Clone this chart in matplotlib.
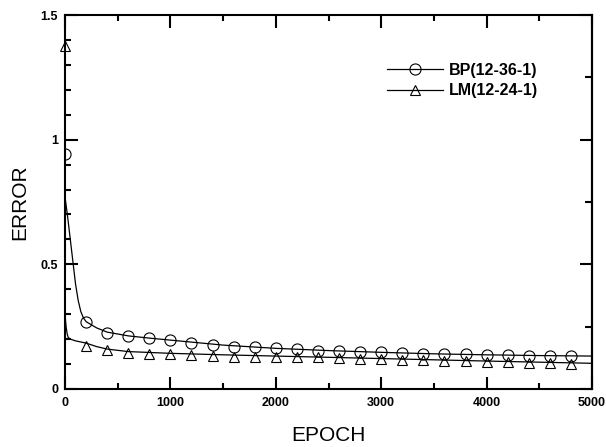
import numpy as np
import matplotlib
matplotlib.use("Agg")
import matplotlib.pyplot as plt
from matplotlib.ticker import MultipleLocator, FormatStrFormatter

plt.rcParams['font.family'] = ['Liberation Sans', 'DejaVu Sans']

# sampled training error (markers every 200 epochs)
epoch_pts = [0, 200, 400, 600, 800, 1000, 1200, 1400, 1600, 1800, 2000, 2200, 2400,
             2600, 2800, 3000, 3200, 3400, 3600, 3800, 4000, 4200, 4400, 4600, 4800]
bp_pts = [0.943, 0.270, 0.226, 0.214, 0.206, 0.197, 0.186, 0.176, 0.170, 0.167, 0.163,
          0.159, 0.154, 0.153, 0.150, 0.147, 0.143, 0.140, 0.139, 0.139, 0.136, 0.136,
          0.133, 0.133, 0.133]
lm_pts = [1.377, 0.174, 0.156, 0.143, 0.139, 0.139, 0.136, 0.133, 0.130, 0.130, 0.127,
          0.127, 0.127, 0.123, 0.121, 0.121, 0.116, 0.116, 0.114, 0.114, 0.110, 0.107,
          0.106, 0.103, 0.100]

# fitted error curves
bp_curve_x = [0, 25, 50, 75, 100, 125, 150, 175, 200, 300, 400, 600, 800, 1000, 1500,
              2000, 2500, 3000, 3500, 4000, 4500, 5000]
bp_curve_y = [0.770, 0.690, 0.600, 0.510, 0.420, 0.355, 0.310, 0.285, 0.270, 0.245,
              0.228, 0.213, 0.204, 0.196, 0.176, 0.163, 0.154, 0.147, 0.141, 0.137,
              0.134, 0.132]
lm_curve_x = [0, 10, 20, 30, 50, 100, 200, 300, 400, 600, 1000, 1500, 2000, 3000, 4000, 5000]
lm_curve_y = [0.300, 0.250, 0.222, 0.207, 0.200, 0.193, 0.184, 0.170, 0.160, 0.150,
              0.143, 0.137, 0.132, 0.122, 0.112, 0.103]

fig = plt.figure(figsize=(6.06, 4.47), dpi=100)
ax = fig.add_axes([0.1073, 0.1298, 0.8696, 0.8366])

ax.plot(bp_curve_x, bp_curve_y, color='black', lw=0.9)
ax.plot(lm_curve_x, lm_curve_y, color='black', lw=0.9)
ax.plot(epoch_pts, bp_pts, ls='none', marker='o', ms=8, mfc='none', mec='black', mew=0.8)
ax.plot(epoch_pts, lm_pts, ls='none', marker='^', ms=7.5, mfc='none', mec='black', mew=0.8,
        clip_on=False)

# legend entries: line with marker in the middle
h1, = ax.plot([], [], color='black', lw=0.9, marker='o', ms=8, mfc='none', mec='black', mew=0.8)
h2, = ax.plot([], [], color='black', lw=0.9, marker='^', ms=7.5, mfc='none', mec='black', mew=0.8)
leg = ax.legend([h1, h2], ['BP(12-36-1)', 'LM(12-24-1)'], loc='upper left',
                bbox_to_anchor=(0.611, 0.872), borderaxespad=0, borderpad=0,
                frameon=False, numpoints=1, handlelength=3.5, handletextpad=0.4,
                labelspacing=0.35, prop={'weight': 'bold', 'size': 11.5})

ax.set_xlim(0, 5000)
ax.set_ylim(0, 1.5)

ax.xaxis.set_major_locator(MultipleLocator(1000))
ax.xaxis.set_minor_locator(MultipleLocator(500))
ax.yaxis.set_major_locator(MultipleLocator(0.5))
ax.yaxis.set_minor_locator(MultipleLocator(0.1))
ax.yaxis.set_major_formatter(FormatStrFormatter('%g'))

ax.tick_params(which='both', direction='in', width=1.5, top=True, right=False)
ax.tick_params(which='major', length=9)
ax.tick_params(which='minor', length=4.5)
ax.tick_params(axis='x', pad=6)
ax.tick_params(axis='y', pad=5)
for lab in ax.get_xticklabels() + ax.get_yticklabels():
    lab.set_fontweight('bold')
    lab.set_fontsize(9)

# right-hand axis has its own, coarser ticks
sec = ax.secondary_yaxis('right')
sec.yaxis.set_major_locator(MultipleLocator(0.5))
sec.yaxis.set_minor_locator(MultipleLocator(0.25))
sec.tick_params(which='both', direction='in', width=1.5, labelright=False)
sec.tick_params(which='major', length=9)
sec.tick_params(which='minor', length=5)
sec.spines['right'].set_linewidth(1.5)

for s in ax.spines.values():
    s.set_linewidth(1.5)

ax.set_xlabel('EPOCH', fontsize=15)
ax.set_ylabel('ERROR', fontsize=15)
ax.xaxis.set_label_coords(0.5, -0.1)
ax.yaxis.set_label_coords(-0.067, 0.5)

fig.savefig('out.png', dpi=100)
